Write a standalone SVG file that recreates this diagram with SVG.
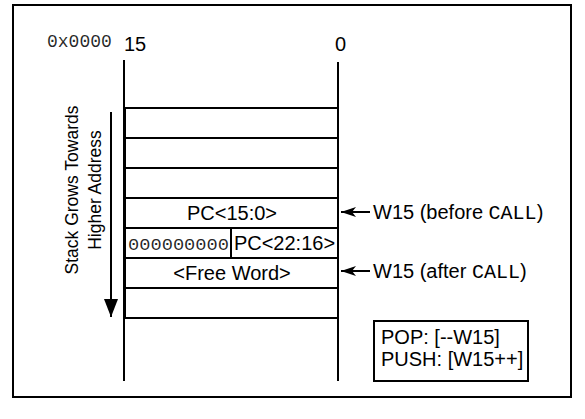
<svg xmlns="http://www.w3.org/2000/svg" width="585" height="419" viewBox="0 0 585 419">
<style>
.ln{stroke:#000;stroke-width:2;fill:none}
.bx{stroke:#000;stroke-width:2;fill:#fff}
.t{font-family:"Liberation Sans",Arial,sans-serif;font-size:20px;fill:#000}
.r{font-family:"Liberation Sans",Arial,sans-serif;font-size:17.5px;fill:#000}
.m{font-family:"Liberation Mono","Courier New",monospace;fill:#000}
</style>
<defs>
<marker id="ah" viewBox="0 0 18 14" refX="18" refY="7" markerWidth="18" markerHeight="14" markerUnits="userSpaceOnUse" orient="auto">
<path d="M0,0 L18,7 L0,14 Z" fill="#000"/>
</marker>
<marker id="ah2" viewBox="0 0 15 10" refX="15" refY="5" markerWidth="15" markerHeight="10" markerUnits="userSpaceOnUse" orient="auto">
<path d="M0,0 L15,5 L0,10 L4,5 Z" fill="#000"/>
</marker>
</defs>
<rect x="13" y="5" width="558" height="392" class="ln"/>
<g id="axis">
<text x="47" y="47" class="m" font-size="18" fill-opacity="0.85">0x0000</text>
<text x="124" y="51" class="t">15</text>
<text x="335" y="51" class="t">0</text>
</g>
<g id="stack">
<line x1="124" y1="60" x2="124" y2="381" class="ln"/>
<line x1="338" y1="62" x2="338" y2="381" class="ln"/>
<rect x="125" y="108" width="213" height="30" class="bx"/>
<rect x="125" y="138" width="213" height="30" class="bx"/>
<rect x="125" y="168" width="213" height="30" class="bx"/>
<rect x="125" y="198" width="213" height="30" class="bx"/>
<rect x="125" y="228" width="213" height="30" class="bx"/>
<rect x="125" y="258" width="213" height="30" class="bx"/>
<rect x="125" y="288" width="213" height="30" class="bx"/>
<line x1="231" y1="228" x2="231" y2="258" class="ln"/>
<text x="232" y="220" class="t" text-anchor="middle">PC&lt;15:0&gt;</text>
<text x="128" y="250" class="m" font-size="17" fill-opacity="0.85" textLength="101" lengthAdjust="spacingAndGlyphs">000000000</text>
<text x="284.5" y="250" class="t" text-anchor="middle">PC&lt;22:16&gt;</text>
<text x="232" y="280" class="t" text-anchor="middle">&lt;Free Word&gt;</text>
</g>
<g id="direction">
<text transform="translate(78,190) rotate(-90)" class="r" text-anchor="middle">Stack Grows Towards</text>
<text transform="translate(101,190) rotate(-90)" class="r" text-anchor="middle">Higher Address</text>
</g>
<g id="connectors">
<line x1="111" y1="112" x2="111" y2="317" class="ln" marker-end="url(#ah)"/>
<line x1="370" y1="212" x2="341" y2="212" class="ln" marker-end="url(#ah2)"/>
<line x1="370" y1="271" x2="341" y2="271" class="ln" marker-end="url(#ah2)"/>
</g>
<g id="labels">
<text x="373" y="219" class="t">W15 (before <tspan class="m">CALL</tspan>)</text>
<text x="373" y="278" class="t">W15 (after <tspan class="m">CALL</tspan>)</text>
</g>
<g id="legend">
<rect x="374" y="321" width="154" height="60" class="bx"/>
<text x="381" y="344" class="t">POP: [--W15]</text>
<text x="381" y="366" class="t">PUSH: [W15++]</text>
</g>
</svg>
